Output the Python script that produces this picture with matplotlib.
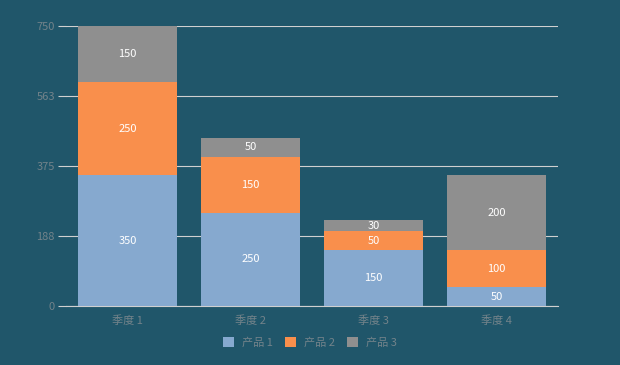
import matplotlib.pyplot as plt
import numpy as np

plt.rcParams['font.family'] = ['Noto Sans CJK SC', 'DejaVu Sans']

quarters = ["季度 1", "季度 2", "季度 3", "季度 4"]
product1 = [350, 250, 150, 50]
product2 = [250, 150, 50, 100]
product3 = [150, 50, 30, 200]
series_names = ["产品 1", "产品 2", "产品 3"]
yticks = [0, 188, 375, 563, 750]

bg = "#20566a"
colors = ["#86a9cf", "#f98f4c", "#8f8f8f"]
label_color = "#73838a"

fig = plt.figure(figsize=(6.2, 3.65), dpi=100, facecolor=bg)
ax = fig.add_axes([66 / 620, 1 - 306 / 365, 492 / 620, 280 / 365])
ax.set_facecolor(bg)

x = np.arange(len(quarters))
bottom = np.zeros(len(quarters))
handles = []
for vals, name, c in zip([product1, product2, product3], series_names, colors):
    bars = ax.bar(x, vals, width=0.8, bottom=bottom, color=c, label=name,
                  edgecolor="none", zorder=3)
    handles.append(bars)
    for xi, b, v in zip(x, bottom, vals):
        ax.text(xi, b + v / 2, str(v), ha="center", va="center",
                color="white", fontsize=8, zorder=4)
    bottom += np.array(vals)

ax.set_xlim(-0.5, 3.5)
ax.set_ylim(0, 750)
ax.set_yticks(yticks)
ax.set_yticklabels([str(t) for t in yticks])
ax.yaxis.grid(True, color="#d0d0d0", linewidth=0.8, zorder=1)
ax.set_xticks(x)
ax.set_xticklabels(quarters)
for s in ["top", "right", "left"]:
    ax.spines[s].set_visible(False)
ax.spines["bottom"].set_color("#d0d0d0")
ax.spines["bottom"].set_linewidth(0.8)
ax.tick_params(axis="y", colors="#d0d0d0", labelcolor=label_color,
               length=6, width=0.8, labelsize=8, pad=2)
ax.tick_params(axis="x", length=0, labelcolor=label_color, labelsize=8, pad=7)

leg = fig.legend(handles=handles, labels=series_names, loc="center",
                 bbox_to_anchor=(0.5, 1 - 342 / 365), ncol=3, frameon=False,
                 fontsize=8, handlelength=1.0, handleheight=1.0,
                 columnspacing=1.1, handletextpad=0.7)
for t in leg.get_texts():
    t.set_color(label_color)

fig.savefig("out.png", dpi=100, facecolor=bg)
